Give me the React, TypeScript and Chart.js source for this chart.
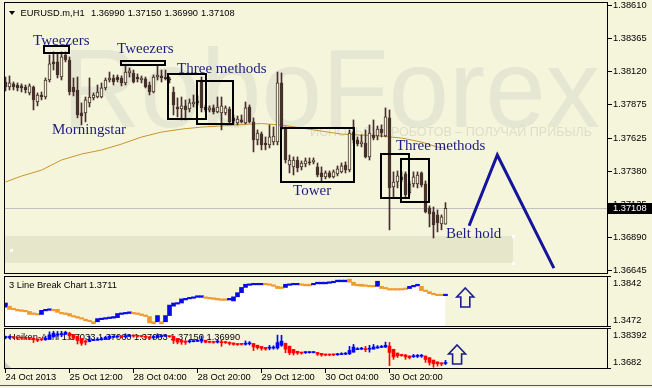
import React, { useEffect, useRef } from "react";
import { Chart, registerables } from "chart.js";

Chart.register(...registerables);

const BG = "#f5f5dc";
const CANDLE = "#46302b";
const NOTE_COLOR = "#1d1d80";
const SANS = '"Liberation Sans", Arial, sans-serif';
const SERIF = '"Liberation Serif", "Times New Roman", serif';

// ---------- data ----------
const symbolTitle = "EURUSD.m,H1";
const timeLabels = ["24 Oct 2013", "25 Oct 12:00", "28 Oct 04:00", "28 Oct 20:00", "29 Oct 12:00", "30 Oct 04:00", "30 Oct 20:00"];
const timeLabelBars = [0, 16, 32, 48, 64, 80, 96];
const priceTicks = [1.36645, 1.3689, 1.37135, 1.3738, 1.37625, 1.37875, 1.3812, 1.38365, 1.3861];
const priceRange = [1.36621, 1.38637];

const openP = [1.38044, 1.38007, 1.3803, 1.38022, 1.38015, 1.38007, 1.37963, 1.38007, 1.37896, 1.37948,
  1.37933, 1.38059, 1.38193, 1.38193, 1.38081, 1.38244, 1.38207, 1.38007, 1.37985, 1.37815,
  1.37815, 1.37889, 1.37926, 1.37933, 1.37933, 1.38, 1.38059, 1.38074, 1.38081, 1.38074,
  1.38037, 1.38111, 1.38111, 1.38081, 1.38059, 1.38067, 1.38022, 1.3797, 1.38081, 1.38089,
  1.38081, 1.38067, 1.3797, 1.37859, 1.37844, 1.37867, 1.37844, 1.37881, 1.37889, 1.38059,
  1.37859, 1.37837, 1.37852, 1.37822, 1.37815, 1.37815, 1.37844, 1.37778, 1.37741, 1.37763,
  1.37741, 1.37859, 1.37748, 1.37615, 1.37659, 1.37592, 1.37578, 1.376, 1.376, 1.38037,
  1.37704, 1.37429, 1.37415, 1.37466, 1.37415, 1.37437, 1.37452, 1.37452, 1.37415, 1.3737,
  1.37341, 1.3737, 1.37341, 1.37363, 1.37378, 1.37429, 1.37392, 1.37674, 1.37615, 1.37585,
  1.37592, 1.37489, 1.37652, 1.37644, 1.37696, 1.37644, 1.37778, 1.37266, 1.37303, 1.37341,
  1.37363, 1.37222, 1.37289, 1.37289, 1.3737, 1.37289, 1.37111, 1.37081, 1.37059, 1.36992,
  1.3699];
const highP = [1.38081, 1.38089, 1.38044, 1.38037, 1.3803, 1.38022, 1.3803, 1.38015, 1.37963, 1.3797,
  1.38074, 1.38244, 1.38267, 1.38259, 1.38267, 1.38267, 1.3823, 1.38074, 1.38081, 1.37889,
  1.37933, 1.38074, 1.37963, 1.38022, 1.38037, 1.38074, 1.38118, 1.38096, 1.38096, 1.38089,
  1.3817, 1.38148, 1.38133, 1.38104, 1.38089, 1.38081, 1.38044, 1.38096, 1.3817, 1.38133,
  1.38133, 1.38081, 1.38007, 1.37926, 1.37933, 1.37911, 1.37918, 1.37948, 1.37941, 1.38081,
  1.37874, 1.37867, 1.37874, 1.37933, 1.37933, 1.37867, 1.37859, 1.378, 1.37792, 1.378,
  1.37896, 1.37874, 1.37778, 1.37689, 1.37674, 1.37637, 1.37726, 1.37711, 1.38118, 1.38111,
  1.37711, 1.37503, 1.37489, 1.37489, 1.37459, 1.37481, 1.37481, 1.37481, 1.37444, 1.37415,
  1.37385, 1.37385, 1.37392, 1.37422, 1.37444, 1.37452, 1.37689, 1.37763, 1.37637, 1.37652,
  1.37689, 1.37726, 1.37763, 1.37718, 1.37726, 1.37852, 1.37837, 1.37378, 1.37385, 1.37378,
  1.37378, 1.37311, 1.37378, 1.37378, 1.37378, 1.37311, 1.37126, 1.37118, 1.37096, 1.37059,
  1.3715];
const lowP = [1.37978, 1.37985, 1.37985, 1.37978, 1.3797, 1.37963, 1.37948, 1.37837, 1.37867, 1.37911,
  1.37918, 1.38044, 1.38133, 1.38074, 1.38059, 1.38193, 1.37948, 1.37941, 1.37778, 1.37726,
  1.37748, 1.37859, 1.37911, 1.37926, 1.37926, 1.37985, 1.38044, 1.38022, 1.38044, 1.38015,
  1.38022, 1.38081, 1.38037, 1.38044, 1.38037, 1.38, 1.37948, 1.37963, 1.38059, 1.38044,
  1.38059, 1.38037, 1.378, 1.37785, 1.37763, 1.37763, 1.37822, 1.37859, 1.37874, 1.37822,
  1.37822, 1.37822, 1.37807, 1.37815, 1.37689, 1.378, 1.37741, 1.37733, 1.37726, 1.37741,
  1.37733, 1.37741, 1.37526, 1.37578, 1.37541, 1.37541, 1.37555, 1.37578, 1.37578, 1.37689,
  1.37444, 1.3737, 1.37355, 1.37378, 1.37392, 1.37415, 1.37429, 1.37437, 1.37341, 1.37311,
  1.37326, 1.37333, 1.37333, 1.37348, 1.3737, 1.3737, 1.37378, 1.37592, 1.3757, 1.37563,
  1.37481, 1.37466, 1.37615, 1.37615, 1.37637, 1.37637, 1.36948, 1.37192, 1.37259, 1.37303,
  1.37192, 1.37207, 1.37266, 1.37259, 1.37266, 1.37074, 1.3697, 1.36888, 1.36933, 1.36948,
  1.3699];
const closeP = [1.38007, 1.38037, 1.38007, 1.38, 1.38, 1.37985, 1.38015, 1.37911, 1.37948, 1.37933,
  1.38059, 1.38178, 1.38178, 1.38096, 1.3823, 1.38207, 1.3797, 1.3797, 1.378, 1.37792,
  1.37911, 1.37933, 1.37948, 1.3797, 1.38, 1.38059, 1.38074, 1.38044, 1.38059, 1.38037,
  1.38118, 1.38126, 1.38044, 1.38067, 1.38074, 1.38007, 1.3797, 1.38081, 1.38096, 1.38074,
  1.38067, 1.38059, 1.37874, 1.37844, 1.37867, 1.37837, 1.37889, 1.37896, 1.37904, 1.37852,
  1.37837, 1.37852, 1.37822, 1.37859, 1.37867, 1.37852, 1.37748, 1.37755, 1.3777, 1.37748,
  1.37852, 1.37748, 1.37615, 1.37666, 1.37578, 1.37578, 1.37637, 1.37644, 1.38037, 1.37711,
  1.37466, 1.37466, 1.37466, 1.37407, 1.37444, 1.37459, 1.37444, 1.37466, 1.37355, 1.37341,
  1.3737, 1.37341, 1.37378, 1.374, 1.37422, 1.37392, 1.37666, 1.37615, 1.37585, 1.376,
  1.37489, 1.37666, 1.37629, 1.37696, 1.37666, 1.37785, 1.37259, 1.37303, 1.37348, 1.37318,
  1.37207, 1.37289, 1.37341, 1.37355, 1.37281, 1.37081, 1.37066, 1.36985, 1.37, 1.37044,
  1.37108];

const maBars = [0, 4, 9, 14, 19, 24, 29, 34, 39, 44, 49, 54, 59, 64, 69, 74, 79, 84, 89, 94, 99, 104, 108, 110];
const maValues = [1.37303, 1.37347, 1.37391, 1.37466, 1.3751, 1.3754, 1.37584, 1.37636, 1.37673, 1.37695, 1.3771, 1.37718,
  1.37729, 1.37736, 1.37725, 1.37703, 1.3768, 1.37658, 1.37651, 1.37643, 1.37629, 1.37599, 1.37562, 1.37555];

// pattern boxes
const boxBarFrom = [9.6, 28.9, 40.6, 47.9, 68.9, 93.9, 98.9];
const boxBarTo = [15.9, 39.9, 50.1, 56.9, 87.1, 100.9, 105.9];
const boxPriceTop = [1.38311, 1.382, 1.38104, 1.38052, 1.37704, 1.37511, 1.37474];
const boxPriceBottom = [1.38259, 1.3817, 1.3777, 1.37733, 1.37303, 1.37185, 1.37155];
// notes
const noteText = ["Tweezers", "Tweezers", "Three methods", "Morningstar", "Tower", "Three methods", "Belt hold"];
const noteBar = [6.9, 27.9, 42.9, 11.6, 71.9, 97.6, 110.1];
const notePrice = [1.38344, 1.38289, 1.38141, 1.37685, 1.37237, 1.3757, 1.36914];
// shaded zone
const zoneBars = [-0.375, 126.9];
const zonePrices = [1.36903, 1.36703];
// forecast zigzag
const zigBars = [115.9, 122.95, 137.1];
const zigPrices = [1.36979, 1.37503, 1.36664];

// 3 Line Break
const lineBreakTitle = "3 Line Break Chart";
const lineBreakLast = 1.3711;
const lineBreakRange = [1.3472, 1.3842];
const lbHigh = [1.3646, 1.3623, 1.3608, 1.36, 1.3597, 1.3593, 1.3585, 1.3574, 1.357, 1.3593,
  1.36, 1.3604, 1.36, 1.36, 1.3578, 1.3574, 1.357, 1.3555, 1.3548, 1.354,
  1.3529, 1.3521, 1.351, 1.3533, 1.3536, 1.354, 1.3544, 1.3548, 1.357, 1.3574,
  1.3578, 1.3582, 1.3578, 1.3574, 1.3567, 1.3559, 1.3548, 1.351, 1.3555, 1.351,
  1.3555, 1.3631, 1.3646, 1.3649, 1.3676, 1.368, 1.3687, 1.3691, 1.3699, 1.3699,
  1.3691, 1.3687, 1.3684, 1.368, 1.3676, 1.3676, 1.368, 1.3691, 1.3721, 1.3759,
  1.3782, 1.3785, 1.3789, 1.3789, 1.3789, 1.3789, 1.3785, 1.3778, 1.3767, 1.3763,
  1.3782, 1.3785, 1.3789, 1.3789, 1.3785, 1.3782, 1.3782, 1.3789, 1.3797, 1.3797,
  1.3797, 1.38, 1.3804, 1.3812, 1.3812, 1.3812, 1.3819, 1.3797, 1.3782, 1.3782,
  1.3778, 1.3774, 1.3774, 1.3804, 1.3767, 1.3759, 1.3751, 1.3751, 1.3751, 1.3751,
  1.3755, 1.3767, 1.3774, 1.3782, 1.3767, 1.374, 1.3729, 1.3717, 1.371, 1.371,
  1.371];
const lbLow = [1.3616, 1.36, 1.3597, 1.3589, 1.3585, 1.3582, 1.3563, 1.3563, 1.3559, 1.3563,
  1.3589, 1.3593, 1.3589, 1.3578, 1.3567, 1.3563, 1.3552, 1.3544, 1.3536, 1.3529,
  1.3517, 1.351, 1.3495, 1.351, 1.3525, 1.3529, 1.3533, 1.3536, 1.354, 1.3563,
  1.3567, 1.357, 1.3567, 1.3563, 1.3555, 1.3548, 1.3502, 1.3495, 1.351, 1.3495,
  1.351, 1.3555, 1.3623, 1.3638, 1.3646, 1.3668, 1.3676, 1.368, 1.3687, 1.3687,
  1.368, 1.3676, 1.3672, 1.3668, 1.3665, 1.3665, 1.3668, 1.3661, 1.3691, 1.3721,
  1.3759, 1.3774, 1.3778, 1.3778, 1.3778, 1.3778, 1.3774, 1.3767, 1.3751, 1.3751,
  1.3759, 1.3774, 1.3778, 1.3778, 1.3774, 1.377, 1.377, 1.3778, 1.3785, 1.3785,
  1.3785, 1.3789, 1.3793, 1.38, 1.38, 1.38, 1.3797, 1.3774, 1.377, 1.3767,
  1.3767, 1.3763, 1.3763, 1.3767, 1.3751, 1.3748, 1.374, 1.374, 1.374, 1.374,
  1.3744, 1.3751, 1.3763, 1.377, 1.3736, 1.3729, 1.3714, 1.3706, 1.3699, 1.3699,
  1.3699];
const lbDirection = "u dddddddd uuu ddddddddddd uuuuuuuuu dddddd u d uuuuuuuuuu dddddd uuuuuuuuu ddddd uuuu ddd uuuuuuuuu ddddddd u ddddddd uuu dddddd u"
  .replace(/ /g, "").split("");
const lbArrow = { bar: 114.95, top: 1.3755, bottom: 1.3617 };

// Heiken-Ashi
const heikenTitle = "Heiken-Ashi";
const heikenHeader = [1.37033, 1.3706, 1.37033, 1.3715, 1.3699];
const heikenRange = [1.3682, 1.38392];
const haArrow = { bar: 112.9, top: 1.3774, bottom: 1.37012 };

// ---------- helpers ----------
const X_MIN = -0.375;
const X_MAX = 150.625;
const N = openP.length;

function heikenAshi() {
  const o: number[] = [], c: number[] = [], h: number[] = [], l: number[] = [];
  for (let i = 0; i < N; i++) {
    const cc = (openP[i] + highP[i] + lowP[i] + closeP[i]) / 4;
    const oo = i === 0 ? (openP[0] + closeP[0]) / 2 : (o[i - 1] + c[i - 1]) / 2;
    o.push(oo); c.push(cc);
    h.push(Math.max(highP[i], oo, cc));
    l.push(Math.min(lowP[i], oo, cc));
  }
  return { o, c, h, l };
}

function xScale(show: boolean): any {
  const s: any = { type: "linear", min: X_MIN, max: X_MAX, offset: false, display: show, grid: { offset: false } };
  if (show) {
    s.position = "bottom";
    s.afterBuildTicks = (sc: any) => { sc.ticks = timeLabelBars.map((v) => ({ value: v })); };
    s.afterFit = (sc: any) => { sc.height = 19; sc.paddingLeft = 0; sc.paddingRight = 0; };
    s.ticks = {
      autoSkip: false, maxRotation: 0, minRotation: 0, align: "start", padding: -1, color: "#000",
      font: { family: SANS, size: 9.3 }, callback: (_v: any, i: number) => timeLabels[i],
    };
    s.grid = { offset: false, drawOnChartArea: false, drawTicks: true, tickLength: 4, color: "#000", lineWidth: 1 };
    s.border = { display: false };
  }
  return s;
}

function rightAxis(min: number, max: number, withTicks: boolean): any {
  const s: any = {
    position: "right", min, max,
    afterFit: (sc: any) => { sc.width = 44; sc.paddingTop = 0; sc.paddingBottom = 0; },
    grid: { display: withTicks, drawOnChartArea: false, drawTicks: true, tickLength: 4, color: "#000" },
    border: { display: false },
    ticks: {
      display: withTicks, autoSkip: false, padding: 1, color: "#000",
      font: { family: SANS, size: 9.3 }, callback: (v: any) => Number(v).toFixed(5),
    },
  };
  if (withTicks) s.afterBuildTicks = (sc: any) => { sc.ticks = priceTicks.map((v) => ({ value: v })); };
  return s;
}

function baseOptions(padding: any): any {
  return {
    responsive: false, maintainAspectRatio: false, animation: false, devicePixelRatio: 1, events: [],
    layout: { padding },
    plugins: { legend: { display: false }, tooltip: { enabled: false } },
  };
}

function frame(ctx: any, a: any) {
  ctx.save();
  ctx.strokeStyle = "#000";
  ctx.lineWidth = 1;
  ctx.strokeRect(a.left + 0.5, a.top + 0.5, a.right - a.left - 1, a.bottom - a.top - 1);
  ctx.restore();
}

function upArrow(ctx: any, cx: number, top: number, bottom: number) {
  const halfW = 8.5, shaft = 4.5, headH = 9;
  ctx.save();
  ctx.beginPath();
  ctx.moveTo(cx, top);
  ctx.lineTo(cx + halfW, top + headH);
  ctx.lineTo(cx + shaft, top + headH);
  ctx.lineTo(cx + shaft, bottom);
  ctx.lineTo(cx - shaft, bottom);
  ctx.lineTo(cx - shaft, top + headH);
  ctx.lineTo(cx - halfW, top + headH);
  ctx.closePath();
  ctx.strokeStyle = "#1c1c8c";
  ctx.lineWidth = 1.6;
  ctx.stroke();
  ctx.restore();
}

function sideLabels(ctx: any, a: any, ys: any, top: string, bottom: string) {
  ctx.save();
  ctx.fillStyle = "#000";
  ctx.strokeStyle = "#000";
  ctx.font = `9.3px ${SANS}`;
  ctx.textBaseline = "middle";
  ctx.textAlign = "left";
  const yt = ys.getPixelForValue(ys.max);
  const yb = ys.getPixelForValue(ys.min);
  ctx.fillText(top, a.right + 5, yt + 7);
  ctx.fillText(bottom, a.right + 5, yb - 7);
  ctx.beginPath();
  ctx.moveTo(a.right, Math.round(yt) + 0.5); ctx.lineTo(a.right + 3, Math.round(yt) + 0.5);
  ctx.moveTo(a.right, Math.round(yb) - 0.5); ctx.lineTo(a.right + 3, Math.round(yb) - 0.5);
  ctx.stroke();
  ctx.restore();
}

// ---------- plugins ----------
const mainPlugin = {
  id: "mainDeco",
  beforeDatasetsDraw(chart: any) {
    const { ctx, chartArea: a } = chart;
    const xs = chart.scales.x, ys = chart.scales.y;
    ctx.save();
    ctx.beginPath();
    ctx.rect(a.left, a.top, a.right - a.left, a.bottom - a.top);
    ctx.clip();
    // watermark
    ctx.fillStyle = "#e5e7d2";
    ctx.font = `112px ${SANS}`;
    ctx.textBaseline = "alphabetic";
    const wm = "RoboForex";
    const w = ctx.measureText(wm).width;
    ctx.save();
    ctx.translate(62, 127);
    ctx.scale(538 / w, 1);
    ctx.fillText(wm, 0, 0);
    ctx.restore();
    ctx.fillStyle = "#dcdec8";
    ctx.font = `12px ${SANS}`;
    const sub = "ИСПОЛЬЗУЙ РОБОТОВ – ПОЛУЧАЙ ПРИБЫЛЬ";
    const sw = ctx.measureText(sub).width;
    ctx.save();
    ctx.translate(310, 133);
    ctx.scale(282 / sw, 1);
    ctx.textBaseline = "middle";
    ctx.fillText(sub, 0, 0);
    ctx.restore();
    // shaded zone
    const zx0 = xs.getPixelForValue(zoneBars[0]);
    const zx1 = Math.round(xs.getPixelForValue(zoneBars[1]));
    const zy0 = Math.round(ys.getPixelForValue(zonePrices[0]));
    const zy1 = Math.round(ys.getPixelForValue(zonePrices[1]));
    ctx.fillStyle = "#e6e6cb";
    ctx.fillRect(zx0, zy0, zx1 - zx0, zy1 - zy0);
    ctx.fillStyle = "#ffffff";
    ctx.strokeStyle = "#cfcfb8";
    ctx.lineWidth = 1;
    [[zx1, zy0], [zx1, zy1], [a.left + 7, (zy0 + zy1) / 2]].forEach(([hx, hy]) => {
      ctx.fillRect(Math.round(hx) - 1, Math.round(hy) - 1, 3, 3);
    });
    // current price line
    const py = Math.round(ys.getPixelForValue(closeP[N - 1])) + 0.5;
    ctx.strokeStyle = "#c0c0c0";
    ctx.beginPath();
    ctx.moveTo(a.left, py);
    ctx.lineTo(a.right, py);
    ctx.stroke();
    ctx.restore();
  },
  afterDatasetsDraw(chart: any) {
    const { ctx, chartArea: a } = chart;
    const xs = chart.scales.x, ys = chart.scales.y;
    ctx.save();
    ctx.beginPath();
    ctx.rect(a.left, a.top, a.right - a.left, a.bottom - a.top);
    ctx.clip();
    // boxes
    ctx.strokeStyle = "#000";
    ctx.lineWidth = 2;
    for (let i = 0; i < boxBarFrom.length; i++) {
      const x0 = Math.round(xs.getPixelForValue(boxBarFrom[i]));
      const x1 = Math.round(xs.getPixelForValue(boxBarTo[i]));
      const y0 = Math.round(ys.getPixelForValue(boxPriceTop[i]));
      const y1 = Math.round(ys.getPixelForValue(boxPriceBottom[i]));
      ctx.strokeRect(x0, y0, x1 - x0, y1 - y0);
    }
    // notes
    ctx.fillStyle = NOTE_COLOR;
    ctx.font = `15px ${SERIF}`;
    ctx.textBaseline = "middle";
    ctx.textAlign = "left";
    for (let i = 0; i < noteText.length; i++) {
      ctx.fillText(noteText[i], xs.getPixelForValue(noteBar[i]), ys.getPixelForValue(notePrice[i]));
    }
    // header
    ctx.fillStyle = "#000";
    ctx.beginPath();
    ctx.moveTo(9, 11); ctx.lineTo(15, 11); ctx.lineTo(12, 15); ctx.closePath();
    ctx.fill();
    ctx.font = `9.3px ${SANS}`;
    ctx.fillText(symbolTitle, 20.5, 13.5);
    const ohlc = [openP[N - 1], highP[N - 1], lowP[N - 1], closeP[N - 1]];
    let hx = 91;
    ohlc.forEach((v) => { ctx.fillText(v.toFixed(5), hx, 13.5); hx += 36.7; });
    ctx.restore();
  },
  afterDraw(chart: any) {
    const { ctx, chartArea: a } = chart;
    const ys = chart.scales.y;
    frame(ctx, a);
    const py = Math.round(ys.getPixelForValue(closeP[N - 1]));
    ctx.save();
    ctx.fillStyle = "#000";
    ctx.fillRect(a.right, py - 5, 44, 11);
    ctx.fillStyle = "#fff";
    ctx.font = `9.3px ${SANS}`;
    ctx.textBaseline = "middle";
    ctx.textAlign = "left";
    ctx.fillText(closeP[N - 1].toFixed(5), a.right + 5, py + 0.5);
    ctx.restore();
  },
};

const lbPlugin = {
  id: "lbDeco",
  afterDatasetsDraw(chart: any) {
    const { ctx } = chart;
    ctx.save();
    ctx.fillStyle = "#000";
    ctx.font = `9.3px ${SANS}`;
    ctx.textBaseline = "middle";
    ctx.textAlign = "left";
    ctx.fillText(`${lineBreakTitle} ${lineBreakLast.toFixed(4)}`, 9, 11.7);
    ctx.restore();
  },
  afterDraw(chart: any) {
    const { ctx, chartArea: a } = chart;
    const xs = chart.scales.x, ys = chart.scales.y;
    frame(ctx, a);
    sideLabels(ctx, a, ys, lineBreakRange[1].toFixed(4), lineBreakRange[0].toFixed(4));
    upArrow(ctx, xs.getPixelForValue(lbArrow.bar), ys.getPixelForValue(lbArrow.top), ys.getPixelForValue(lbArrow.bottom));
  },
};

const haPlugin = {
  id: "haDeco",
  beforeDatasetsDraw(chart: any) {
    const { ctx } = chart;
    ctx.save();
    ctx.fillStyle = "#000";
    ctx.font = `9.3px ${SANS}`;
    ctx.textBaseline = "middle";
    ctx.textAlign = "left";
    ctx.fillText(`${heikenTitle} ${heikenHeader.map((v) => v.toFixed(5)).join(" ")}`, 9, 10.7);
    ctx.restore();
  },
  afterDraw(chart: any) {
    const { ctx, chartArea: a } = chart;
    const xs = chart.scales.x, ys = chart.scales.y;
    frame(ctx, a);
    sideLabels(ctx, a, ys, heikenRange[1].toFixed(5), heikenRange[0].toFixed(4));
    upArrow(ctx, xs.getPixelForValue(haArrow.bar), ys.getPixelForValue(haArrow.top), ys.getPixelForValue(haArrow.bottom));
    ctx.save();
    ctx.fillStyle = "#c8c8c0";
    ctx.beginPath();
    ctx.moveTo(a.left + 1, a.bottom - 7);
    ctx.lineTo(a.left + 1, a.bottom - 1);
    ctx.lineTo(a.left + 7, a.bottom - 1);
    ctx.closePath();
    ctx.fill();
    ctx.strokeStyle = "#555";
    ctx.beginPath();
    ctx.moveTo(0, 58.5);
    ctx.lineTo(652, 58.5);
    ctx.stroke();
    ctx.restore();
  },
};

export default function App() {
  const mainRef = useRef<HTMLCanvasElement>(null);
  const lbRef = useRef<HTMLCanvasElement>(null);
  const haRef = useRef<HTMLCanvasElement>(null);

  useEffect(() => {
    const idx = openP.map((_, i) => i);
    const bodies = idx.map((i) => ({ x: i, y: [Math.min(openP[i], closeP[i]), Math.max(openP[i], closeP[i])] }));
    const bodyFill = idx.map((i) => (closeP[i] >= openP[i] ? BG : CANDLE));
    const wicks = idx.map((i) => ({ x: i, y: [lowP[i], highP[i]] }));
    const ma = maBars.map((b, i) => ({ x: b, y: maValues[i] }));
    const zig = zigBars.map((b, i) => ({ x: b, y: zigPrices[i] }));

    const main = new Chart(mainRef.current as HTMLCanvasElement, {
      type: "bar",
      data: {
        datasets: [
          { type: "line", data: zig, borderColor: "#14149e", borderWidth: 3, pointRadius: 0, borderJoinStyle: "miter", order: 0 } as any,
          { type: "bar", data: bodies, backgroundColor: bodyFill, borderColor: CANDLE, borderWidth: 1, borderSkipped: false, barThickness: 3, grouped: false, minBarLength: 1, order: 1 } as any,
          { type: "bar", data: wicks, backgroundColor: CANDLE, borderWidth: 0, barThickness: 1, grouped: false, order: 2 } as any,
          { type: "line", data: ma, borderColor: "#c8952e", borderWidth: 1, pointRadius: 0, tension: 0, order: 3 } as any,
        ],
      },
      options: {
        ...baseOptions({ left: 4, right: 0, top: 2, bottom: 0 }),
        scales: { x: xScale(false), y: rightAxis(priceRange[0], priceRange[1], true) },
      },
      plugins: [mainPlugin],
    });

    const lbBlocks = idx.map((i) => ({ x: i, y: [lbLow[i], lbHigh[i]] }));
    const lbColors = idx.map((i) => (lbDirection[i] === "u" ? "#0a0ae6" : "#f09a2c"));
    const lbFill = idx.map((i) => ({ x: i, y: lbHigh[i] }));
    const lb = new Chart(lbRef.current as HTMLCanvasElement, {
      type: "bar",
      data: {
        datasets: [
          { type: "bar", data: lbBlocks, backgroundColor: lbColors, borderWidth: 0, barThickness: 4, grouped: false, minBarLength: 1, order: 1 } as any,
          { type: "line", data: lbFill, borderWidth: 0, pointRadius: 0, fill: "start", backgroundColor: "#ffffff", stepped: "middle", order: 2 } as any,
        ],
      },
      options: {
        ...baseOptions({ left: 4, right: 0, top: 2, bottom: 1 }),
        scales: { x: xScale(false), y: rightAxis(lineBreakRange[0], lineBreakRange[1], false) },
      },
      plugins: [lbPlugin],
    });

    const ha = heikenAshi();
    const haBodies = idx.map((i) => ({ x: i, y: [Math.min(ha.o[i], ha.c[i]), Math.max(ha.o[i], ha.c[i])] }));
    const haWicks = idx.map((i) => ({ x: i, y: [ha.l[i], ha.h[i]] }));
    const haColors = idx.map((i) => (ha.c[i] >= ha.o[i] ? "#0000ff" : "#ff0000"));
    const haChart = new Chart(haRef.current as HTMLCanvasElement, {
      type: "bar",
      data: {
        datasets: [
          { type: "bar", data: haBodies, backgroundColor: haColors, borderWidth: 0, barThickness: 3, grouped: false, minBarLength: 1, order: 1 } as any,
          { type: "bar", data: haWicks, backgroundColor: haColors, borderWidth: 0, barThickness: 1, grouped: false, minBarLength: 1, order: 2 } as any,
        ],
      },
      options: {
        ...baseOptions({ left: 4, right: 0, top: 1, bottom: 0 }),
        scales: { x: xScale(true), y: rightAxis(heikenRange[0], heikenRange[1], false) },
      },
      plugins: [haPlugin],
    });

    return () => {
      main.destroy();
      lb.destroy();
      haChart.destroy();
    };
  }, []);

  return (
    <div style={{ position: "fixed", left: 0, top: 0, width: 652, height: 388, background: BG, overflow: "hidden" }}>
      <canvas ref={mainRef} width={652} height={274} style={{ position: "absolute", left: 0, top: 0, width: 652, height: 274 }} />
      <canvas ref={lbRef} width={652} height={54} style={{ position: "absolute", left: 0, top: 274, width: 652, height: 54 }} />
      <canvas ref={haRef} width={652} height={61} style={{ position: "absolute", left: 0, top: 327, width: 652, height: 61 }} />
    </div>
  );
}
